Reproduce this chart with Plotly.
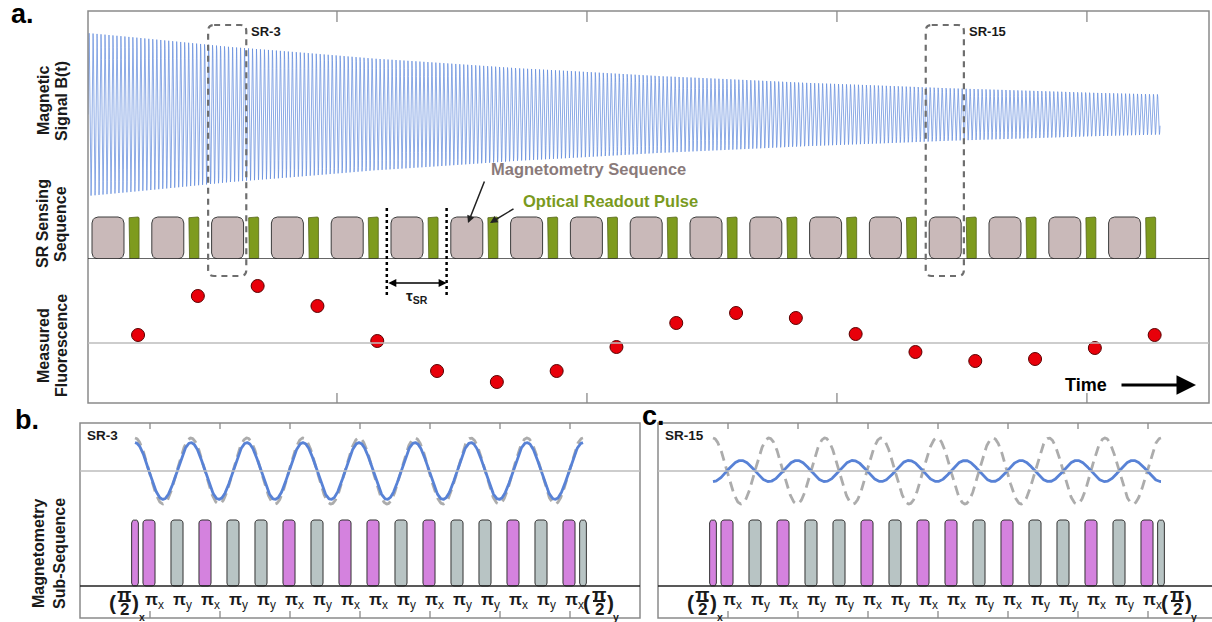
import numpy as np
import plotly.graph_objects as go

W, H = 1212, 622

# ---------------- data ----------------
sr_index = list(range(18))                       # SR sensing repetitions (0-based)
fluorescence = [0.16, 0.94, 1.14, 0.74, 0.04, -0.56, -0.78, -0.56, -0.08,
                0.40, 0.60, 0.50, 0.18, -0.18, -0.36, -0.32, -0.10, 0.16]
highlighted_sr = [3, 15]                         # SR-3 and SR-15
signal_envelope = [1.0, 0.244]                   # amplitude at start / end of record
signal_time_span = [-0.067, 17.86]               # in SR periods
signal_cycles_per_sr = 15

pulse_phases = ["x", "y", "x", "y", "y", "x", "y", "x",
                "x", "y", "x", "y", "y", "x", "y", "x"]   # XY-16 pi pulses
half_pulse_phases = ["x", "y"]                   # first / last pi/2 pulse
subseq_names = ["SR-3", "SR-15"]
reference_amplitude = [1.0, 1.0]                 # dashed grey reference wave
measured_amplitude = [0.86, -0.32]               # blue signal within sub-sequence

# ---------------- geometry / style ----------------
FONT = "Arial, 'Liberation Sans', sans-serif"
DARK = "#1a1a1a"
BORDER = "#8a8a8a"
BLUE = "rgb(88,130,214)"
SIGBLUE = "rgb(96,138,220)"
PINK = "rgb(212,130,222)"
GREYP = "rgb(184,196,196)"
BLOCK = "rgb(201,185,185)"
GREEN = "rgb(126,155,30)"


def px_x(p):
    return p / W


def px_y(p):
    return 1 - p / H


def xax(p0, p1, origin, scale, anchor):
    return dict(domain=[p0 / W, min(p1 / W, 1.0)],
                range=[(p0 - origin) / scale, (p1 - origin) / scale],
                visible=False, anchor=anchor, fixedrange=True)


def yax(ptop, pbot, origin, scale, anchor):
    return dict(domain=[1 - pbot / H, 1 - ptop / H],
                range=[(origin - pbot) / scale, (origin - ptop) / scale],
                visible=False, anchor=anchor, fixedrange=True)


def rrect(x0, x1, y0, y1, rx, ry, n=6):
    xs, ys = [], []
    corners = [(x1 - rx, y1 - ry, 0), (x0 + rx, y1 - ry, 90),
               (x0 + rx, y0 + ry, 180), (x1 - rx, y0 + ry, 270)]
    for cx, cy, a0 in corners:
        for a in np.linspace(a0, a0 + 90, n):
            xs.append(cx + rx * np.cos(np.radians(a)))
            ys.append(cy + ry * np.sin(np.radians(a)))
    xs.append(xs[0]); ys.append(ys[0])
    return xs, ys


def poly_trace(rects, fill, line, lw, xa, ya):
    X, Y = [], []
    for r in rects:
        xs, ys = rrect(*r)
        X += xs + [None]
        Y += ys + [None]
    return go.Scatter(x=X, y=Y, mode="lines", fill="toself", fillcolor=fill,
                      line=dict(color=line, width=lw), xaxis=xa, yaxis=ya,
                      hoverinfo="skip", showlegend=False)


# panel a pixel mapping
A_L, A_R, A_T, A_B = 88, 1209, 11, 403
T0, SRP = 92, 59.8
FL_ZERO, FL_SC = 343, 50
# sub-panels
SUB_T, SUB_B = 423, 618
WAVE_MID, WAVE_BOT, WAVE_SC = 471, 512, 33
P_BASE, P_SC = 586, 66
TAU = 28
panels = [dict(left=80, right=640, origin=135, xa="x2", yw="y4", yp="y5"),
          dict(left=658, right=1218, origin=713, xa="x3", yw="y6", yp="y7")]

fig = go.Figure()
shapes, anns = [], []

# ---------------- panel a ----------------
t = np.linspace(signal_time_span[0], signal_time_span[1], 7000)
frac = (t - t[0]) / (t[-1] - t[0])
env = signal_envelope[0] * (signal_envelope[1] / signal_envelope[0]) ** frac
B = env * np.sin(2 * np.pi * signal_cycles_per_sr * (t - t[0]))
fig.add_trace(go.Scatter(x=t, y=B, mode="lines", line=dict(color=SIGBLUE, width=0.9),
                         opacity=0.8, xaxis="x", yaxis="y", hoverinfo="skip",
                         showlegend=False))

BW, GW0, GW1 = 0.535, 0.62, 0.787
fig.add_trace(poly_trace([(k, k + BW, 0, 1, 6 / SRP, 6 / 42) for k in sr_index],
                         BLOCK, "#3c3c3c", 1, "x", "y2"))
fig.add_trace(poly_trace([(k + GW0, k + GW1, 0, 1, 1 / SRP, 1 / 42) for k in sr_index],
                         GREEN, "#55661a", 0.8, "x", "y2"))

fig.add_trace(go.Scatter(x=[k + 0.77 for k in sr_index], y=fluorescence, mode="markers",
                         marker=dict(size=13, color="rgb(232,0,10)",
                                     line=dict(color="#5a0000", width=1)),
                         xaxis="x", yaxis="y3", hoverinfo="skip", showlegend=False))

# frame, baseline, zero line, ticks
shapes.append(dict(type="rect", xref="paper", yref="paper", x0=px_x(A_L), x1=px_x(A_R),
                   y0=px_y(A_B), y1=px_y(A_T), line=dict(color=BORDER, width=1.5)))
shapes.append(dict(type="line", xref="x domain", yref="y2", x0=0, x1=1, y0=0, y1=0,
                   line=dict(color="#333", width=1.6)))
shapes.append(dict(type="line", xref="x domain", yref="y3", x0=0, x1=1, y0=0, y1=0,
                   line=dict(color="#bdbdbd", width=1.6)))
for i in range(4):
    f = 0.2221 + 0.2230 * i
    for yy0, yy1 in [(A_T, A_T + 11), (A_B, A_B - 10)]:
        shapes.append(dict(type="line", xref="x domain", yref="paper", x0=f, x1=f,
                           y0=px_y(yy0), y1=px_y(yy1), line=dict(color=BORDER, width=1.3)))

# SR dashed boxes
for sr in highlighted_sr:
    k = sr - 1
    x0, x1 = k - 0.058, k + 0.58
    y0, y1 = px_y(276), px_y(25)
    rx, ry = 6 / SRP, 6 / H
    path = (f"M {x0+rx},{y1} L {x1-rx},{y1} Q {x1},{y1} {x1},{y1-ry} "
            f"L {x1},{y0+ry} Q {x1},{y0} {x1-rx},{y0} L {x0+rx},{y0} "
            f"Q {x0},{y0} {x0},{y0+ry} L {x0},{y1-ry} Q {x0},{y1} {x0+rx},{y1} Z")
    shapes.append(dict(type="path", xref="x", yref="paper", path=path,
                       line=dict(color="#6e6e6e", width=2.2, dash="6px,5px")))
    anns.append(dict(x=x1, y=px_y(31), xref="x", yref="paper", text=f"<b>SR-{sr}</b>",
                     showarrow=False, xanchor="left", yanchor="middle", xshift=3,
                     font=dict(family=FONT, size=13, color=DARK)))

# tau_SR markers
tau_k = [5, 6]
for k in tau_k:
    shapes.append(dict(type="line", xref="x", yref="paper", x0=k - 0.07, x1=k - 0.07,
                       y0=px_y(208), y1=px_y(297), line=dict(color="black", width=2.5, dash="dot")))
tau_y = (FL_ZERO - 283) / FL_SC
anns.append(dict(x=tau_k[1] - 0.07, y=tau_y, xref="x", yref="y3", ax=tau_k[0] - 0.07,
                 ay=tau_y, axref="x", ayref="y3", text="", showarrow=True,
                 arrowside="end+start", arrowhead=2, startarrowhead=2, arrowsize=1,
                 startarrowsize=1, arrowwidth=1.6, arrowcolor="black"))
anns.append(dict(x=(tau_k[0] + tau_k[1]) / 2 - 0.07, y=px_y(296), xref="x", yref="paper",
                 text="<b>τ<sub>SR</sub></b>", showarrow=False,
                 font=dict(family=FONT, size=15, color=DARK)))

# callouts
anns.append(dict(x=px_x(588), y=px_y(169), xref="paper", yref="paper",
                 text="<b>Magnetometry Sequence</b>", showarrow=False,
                 font=dict(family=FONT, size=16.5, color="rgb(138,122,122)")))
anns.append(dict(x=px_x(610), y=px_y(201), xref="paper", yref="paper",
                 text="<b>Optical Readout Pulse</b>", showarrow=False,
                 font=dict(family=FONT, size=16.5, color="rgb(122,154,30)")))
anns.append(dict(x=px_x(468), y=px_y(223), xref="paper", yref="paper", ax=17, ay=-43,
                 text="", showarrow=True, arrowhead=2, arrowsize=1, arrowwidth=1.5,
                 arrowcolor="#222"))
anns.append(dict(x=px_x(490), y=px_y(223), xref="paper", yref="paper", ax=25, ay=-15,
                 text="", showarrow=True, arrowhead=2, arrowsize=1, arrowwidth=1.5,
                 arrowcolor="#222"))

# time arrow
anns.append(dict(x=px_x(1086), y=px_y(385), xref="paper", yref="paper",
                 text="<b>Time</b>", showarrow=False,
                 font=dict(family=FONT, size=18, color="black")))
anns.append(dict(x=px_x(1196), y=px_y(385), xref="paper", yref="paper", ax=-76, ay=0,
                 text="", showarrow=True, arrowhead=2, arrowsize=1.3, arrowwidth=3,
                 arrowcolor="black"))

# y labels panel a
for (l1, l2, cy) in [("Magnetic", "Signal B(t)", 101), ("SR Sensing", "Sequence", 224),
                     ("Measured", "Fluorescence", 346)]:
    for txt, cx in [(l1, 43), (l2, 61)]:
        anns.append(dict(x=px_x(cx), y=px_y(cy), xref="paper", yref="paper",
                         text=f"<b>{txt}</b>", textangle=-90, showarrow=False,
                         font=dict(family=FONT, size=16, color=DARK)))
for txt, cx in [("Magnetometry", 38), ("Sub-Sequence", 59)]:
    anns.append(dict(x=px_x(cx), y=px_y(554), xref="paper", yref="paper",
                     text=f"<b>{txt}</b>", textangle=-90, showarrow=False,
                     font=dict(family=FONT, size=16, color=DARK)))

# panel letters
for letter, cx, cy in [("a.", 22, 14), ("b.", 27, 420), ("c.", 653, 416)]:
    anns.append(dict(x=px_x(cx), y=px_y(cy), xref="paper", yref="paper",
                     text=f"<b>{letter}</b>", showarrow=False,
                     font=dict(family=FONT, size=27, color="black")))

# ---------------- panels b & c ----------------
u = np.linspace(0, len(pulse_phases), 1200)
for i, p in enumerate(panels):
    xa, yw, yp = p["xa"], p["yw"], p["yp"]
    fig.add_trace(go.Scatter(x=u, y=reference_amplitude[i] * np.cos(np.pi * u), mode="lines",
                             line=dict(color="rgb(172,172,172)", width=2.8, dash="10px,6px"),
                             xaxis=xa, yaxis=yw, hoverinfo="skip", showlegend=False))
    fig.add_trace(go.Scatter(x=u, y=measured_amplitude[i] * np.cos(np.pi * u), mode="lines",
                             line=dict(color=BLUE, width=2.8),
                             xaxis=xa, yaxis=yw, hoverinfo="skip", showlegend=False))

    # pulses
    rxp, ryp = 3 / TAU, 3 / P_SC
    pw, hw = 0.43, 0.24
    centers = [n + 0.5 for n in range(len(pulse_phases))]
    half_centers = [0, len(pulse_phases)]
    for ph, col in [("x", PINK), ("y", GREYP)]:
        rects = [(c - pw / 2, c + pw / 2, 0, 1, rxp, ryp)
                 for c, q in zip(centers, pulse_phases) if q == ph]
        rects += [(c - hw / 2, c + hw / 2, 0, 1, rxp * 0.8, ryp)
                  for c, q in zip(half_centers, half_pulse_phases) if q == ph]
        fig.add_trace(poly_trace(rects, col, "#333", 1, xa, yp))

    # frame and guide lines
    xr = f"{xa} domain"
    shapes.append(dict(type="rect", xref="paper", yref="paper", x0=px_x(p["left"]),
                       x1=px_x(p["right"]), y0=px_y(SUB_B), y1=px_y(SUB_T),
                       line=dict(color=BORDER, width=1.5)))
    shapes.append(dict(type="line", xref=xr, yref=yw, x0=0, x1=1, y0=0, y1=0,
                       line=dict(color="#bdbdbd", width=1.6)))
    shapes.append(dict(type="line", xref=xr, yref=yp, x0=0, x1=1, y0=0, y1=0,
                       line=dict(color="#222", width=1.6)))
    x_start = (p["left"] - p["origin"]) / TAU
    for j in range(1, 8):
        tx = x_start + 2.5 * j
        for yy0, yy1 in [(SUB_T, SUB_T + 6), (SUB_B, SUB_B - 7)]:
            shapes.append(dict(type="line", xref=xa, yref="paper", x0=tx, x1=tx,
                               y0=px_y(yy0), y1=px_y(yy1), line=dict(color=BORDER, width=1.3)))

    anns.append(dict(x=px_x(p["left"] + 5), y=px_y(435), xref="paper", yref="paper",
                     text=f"<b>{subseq_names[i]}</b>", showarrow=False, xanchor="left",
                     font=dict(family=FONT, size=13.5, color=DARK)))

    # pulse labels
    for c, q in zip(centers, pulse_phases):
        anns.append(dict(x=c, y=px_y(601), xref=xa, yref="paper", xanchor="left",
                         xshift=-6.5, text=f"<b>π</b><sub>{q}</sub>", showarrow=False,
                         font=dict(family=FONT, size=17, color=DARK)))
    for c, q, sh in zip(half_centers, half_pulse_phases, [-10.5, 16]):
        anns.append(dict(x=c, y=px_y(594.5), xref=xa, yref="paper", xshift=sh,
                         text="<b>π</b>", showarrow=False,
                         font=dict(family=FONT, size=19, color=DARK)))
        anns.append(dict(x=c, y=px_y(609), xref=xa, yref="paper", xshift=sh,
                         text="<b>2</b>", showarrow=False,
                         font=dict(family=FONT, size=17, color=DARK)))
        anns.append(dict(x=c, y=px_y(602), xref=xa, yref="paper", xshift=sh - 12.5,
                         text="<b>(</b>", showarrow=False,
                         font=dict(family=FONT, size=21, color=DARK)))
        anns.append(dict(x=c, y=px_y(602), xref=xa, yref="paper", xshift=sh + 11,
                         text="<b>)</b>", showarrow=False,
                         font=dict(family=FONT, size=21, color=DARK)))
        anns.append(dict(x=c, y=px_y(616.5), xref=xa, yref="paper", xshift=sh + 17,
                         text=f"<b>{q}</b>", showarrow=False,
                         font=dict(family=FONT, size=10.5, color=DARK)))
        shapes.append(dict(type="line", xref=xa, yref="paper", xsizemode="pixel",
                           xanchor=c, x0=sh - 6, x1=sh + 6, y0=px_y(601), y1=px_y(601),
                           line=dict(color=DARK, width=2)))

# explicit anchoring (avoid plotly's "auto" anchor shifting)
for a in anns:
    a.setdefault("xanchor", "center")
    a.setdefault("yanchor", "middle")

# ---------------- layout ----------------
layout = dict(
    width=W, height=H, autosize=False,
    margin=dict(l=0, r=0, t=0, b=0, pad=0),
    paper_bgcolor="white", plot_bgcolor="rgba(0,0,0,0)",
    showlegend=False, hovermode=False,
    xaxis=xax(A_L, A_R, T0, SRP, "y3"),
    yaxis=yax(A_T, 205, 114.5, 82, "x"),
    yaxis2=yax(205, 259, 259, 42, "x"),
    yaxis3=yax(259, A_B, FL_ZERO, FL_SC, "x"),
    shapes=shapes, annotations=anns,
)
for k, p in enumerate(panels):
    xkey = "xaxis2" if k == 0 else "xaxis3"
    layout[xkey] = xax(p["left"], p["right"], p["origin"], TAU, p["yp"])
    layout["yaxis" + p["yw"][1:]] = yax(SUB_T, WAVE_BOT, WAVE_MID, WAVE_SC, p["xa"])
    layout["yaxis" + p["yp"][1:]] = yax(WAVE_BOT, SUB_B, P_BASE, P_SC, p["xa"])
# panel c extends past the right edge: clip its x axis to the page
pc = panels[1]
layout["xaxis3"]["range"][1] = (W - pc["origin"]) / TAU
fig.update_layout(**layout)

fig.write_html("out.html", config={"displayModeBar": False, "staticPlot": True},
               post_script="document.body.style.margin='0px';document.body.style.overflow='hidden';")
